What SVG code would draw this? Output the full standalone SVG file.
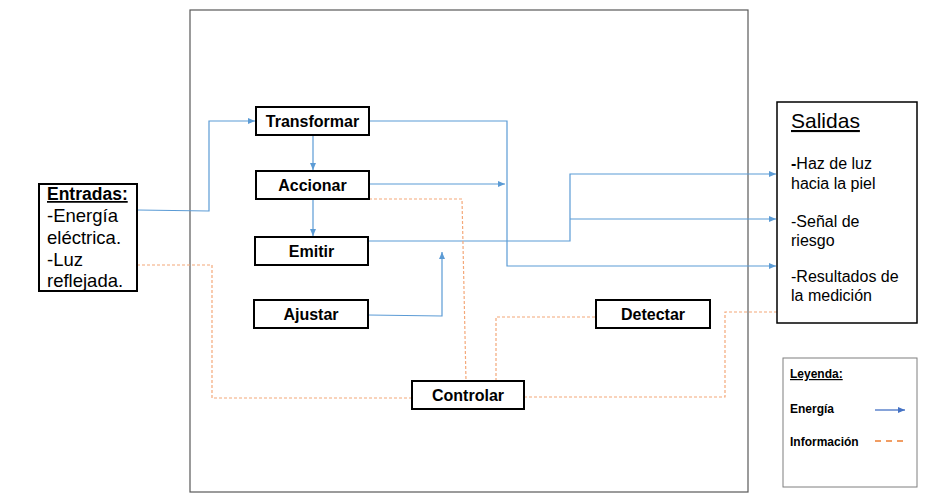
<svg xmlns="http://www.w3.org/2000/svg" width="947" height="502" viewBox="0 0 947 502">
<defs>
<style>
.node rect{fill:#fff;stroke:#000;stroke-width:2}
.node text{font-family:"Liberation Sans",Arial,sans-serif;font-weight:bold;font-size:16px;text-anchor:middle;fill:#000}
.en{fill:none;stroke:#5B9BD5;stroke-width:1.2}
.info{fill:none;stroke:#F4A879;stroke-width:1.2;stroke-dasharray:3 2}
.t{font-family:"Liberation Sans",Arial,sans-serif;fill:#000}
.e{font-size:18.5px}
</style>
<marker id="ah" markerWidth="8" markerHeight="8" refX="7" refY="4" orient="auto" markerUnits="userSpaceOnUse">
<path d="M0,1 L7,4 L0,7 Z" fill="#5B9BD5"/>
</marker>
<marker id="ah2" markerWidth="8" markerHeight="8" refX="7" refY="4" orient="auto" markerUnits="userSpaceOnUse">
<path d="M0,1 L7,4 L0,7 Z" fill="#4472C4"/>
</marker>
</defs>
<rect width="947" height="502" fill="#fff"/>
<rect id="frame" x="190" y="10" width="558" height="482" fill="none" stroke="#595959" stroke-width="1.2"/>

<g id="connectors">
<path class="en" d="M137,210 L209,211 V121 H255" marker-end="url(#ah)"/>
<path class="en" d="M313,135 V170" marker-end="url(#ah)"/>
<path class="en" d="M313,199 V236" marker-end="url(#ah)"/>
<path class="en" d="M369,121 H507 V266 H776" marker-end="url(#ah)"/>
<path class="en" d="M369,184 H505" marker-end="url(#ah)"/>
<path class="en" d="M369,241 H570 V174 H776" marker-end="url(#ah)"/>
<path class="en" d="M570,219 H776" marker-end="url(#ah)"/>
<path class="en" d="M368,315 L442,316 V252" marker-end="url(#ah)"/>
<path class="info" d="M137,265 H212 V398 H412"/>
<path class="info" d="M369,199 H462 L466,381"/>
<path class="info" d="M496,381 V317 H596"/>
<path class="info" d="M524,397 H725 V312 H777"/>
</g>

<g id="entradas">
<rect x="39" y="184" width="98" height="107" fill="#fff" stroke="#000" stroke-width="2"/>
<text class="t" x="47" y="200" font-size="17.5" font-weight="bold" text-decoration="underline">Entradas:</text>
<text class="t e" x="47" y="222">-Energía</text>
<text class="t e" x="47" y="244">eléctrica.</text>
<text class="t e" x="47" y="266">-Luz</text>
<text class="t e" x="47" y="287">reflejada.</text>
</g>

<g id="transformar" class="node"><rect x="256" y="107" width="113" height="28"/><text x="312.5" y="127">Transformar</text></g>
<g id="accionar" class="node"><rect x="256" y="171" width="113" height="28"/><text x="312.5" y="191">Accionar</text></g>
<g id="emitir" class="node"><rect x="255" y="237" width="113" height="28"/><text x="311.5" y="257">Emitir</text></g>
<g id="ajustar" class="node"><rect x="254" y="300" width="114" height="28"/><text x="311" y="320">Ajustar</text></g>
<g id="controlar" class="node"><rect x="412" y="381" width="112" height="28"/><text x="468" y="401">Controlar</text></g>
<g id="detectar" class="node"><rect x="596" y="300" width="114" height="28"/><text x="653" y="320">Detectar</text></g>

<g id="salidas">
<rect x="777" y="102" width="140" height="221" fill="#fff" stroke="#000" stroke-width="1.5"/>
<text class="t" x="791" y="128" font-size="21" text-decoration="underline">Salidas</text>
<text class="t" x="791" y="169" font-size="16"><tspan font-weight="bold">-</tspan>Haz de luz</text>
<text class="t" x="791" y="189" font-size="16">hacia la piel</text>
<text class="t" x="791" y="227" font-size="16">-Señal de</text>
<text class="t" x="791" y="246" font-size="16">riesgo</text>
<text class="t" x="791" y="282" font-size="16">-Resultados de</text>
<text class="t" x="791" y="301" font-size="16">la medición</text>
</g>

<g id="leyenda">
<rect x="783" y="358" width="134" height="129" fill="#fff" stroke="#7f7f7f" stroke-width="1"/>
<text class="t" x="790" y="378" font-size="12" font-weight="bold" text-decoration="underline">Leyenda:</text>
<text class="t" x="790" y="413" font-size="12" font-weight="bold">Energía</text>
<text class="t" x="790" y="446" font-size="12" font-weight="bold">Información</text>
<path d="M875,410 H905" stroke="#4472C4" stroke-width="1.3" fill="none" marker-end="url(#ah2)"/>
<path d="M875,441 H906" stroke="#ED7D31" stroke-width="1.5" fill="none" stroke-dasharray="6 5"/>
</g>
</svg>
